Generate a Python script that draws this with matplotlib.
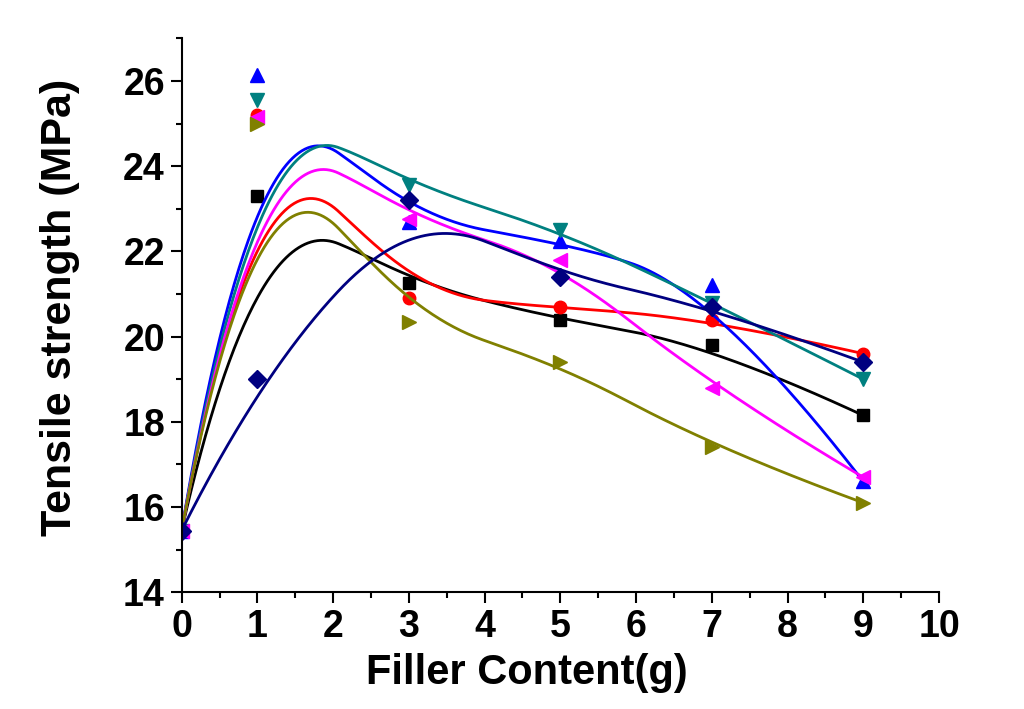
import numpy as np
import matplotlib
matplotlib.use('Agg')
import matplotlib.pyplot as plt
from matplotlib.ticker import MultipleLocator

plt.rcParams['font.family'] = ['Liberation Sans', 'DejaVu Sans']
plt.rcParams['font.weight'] = 'bold'

filler = [0, 1, 3, 5, 7, 9]

s_black = [15.45, 23.3, 21.25, 20.4, 19.8, 18.15]
s_red = [15.45, 25.2, 20.9, 20.7, 20.4, 19.6]
s_blue = [15.45, 26.15, 22.7, 22.25, 21.2, 16.6]
s_teal = [15.45, 25.55, 23.55, 22.5, 20.8, 19.0]
s_magenta = [15.45, 25.15, 22.75, 21.8, 18.8, 16.7]
s_olive = [15.45, 25.0, 20.35, 19.4, 17.4, 16.1]
s_navy = [15.45, 19.0, 23.2, 21.4, 20.7, 19.4]

series = [
    (s_black, 'black', 's', 8),
    (s_red, '#ff0000', 'o', 9),
    (s_blue, '#0000ff', '^', 9.5),
    (s_teal, '#008080', 'v', 9.5),
    (s_magenta, '#ff00ff', '<', 9.5),
    (s_olive, '#808000', '>', 9.5),
    (s_navy, '#000080', 'D', 9),
]


def basis(u, knots, k):
    N = np.zeros((len(u), len(knots) - 1))
    for i in range(len(knots) - 1):
        N[:, i] = (u >= knots[i]) & (u < knots[i + 1])
    for d in range(1, k + 1):
        Nn = np.zeros((len(u), len(knots) - 1 - d))
        for i in range(len(knots) - 1 - d):
            a = knots[i + d] - knots[i]
            b = knots[i + d + 1] - knots[i + 1]
            t1 = (u - knots[i]) / a * N[:, i] if a > 0 else 0
            t2 = (knots[i + d + 1] - u) / b * N[:, i + 1] if b > 0 else 0
            Nn[:, i] = t1 + t2
        N = Nn
    return N


def bspline(xs, ys, n=400):
    # smoothed curve: data points used as control points of clamped
    # quadratic and cubic B-splines, blended
    pts = np.column_stack([xs, ys]).astype(float)
    m = len(pts)
    u = np.linspace(0, 1, n)
    u[-1] = 1 - 1e-12
    out = np.zeros((n, 2))
    for k, w in ((2, 0.6), (3, 0.4)):
        knots = np.concatenate([[0] * k, np.linspace(0, 1, m - k + 1), [1] * k])
        out += w * (basis(u, knots, k) @ pts)
    return out[:, 0], out[:, 1]


fig = plt.figure(figsize=(10.24, 7.09), dpi=100)
ax = fig.add_axes([0.1774, 0.1646, 0.7396, 0.7814])

for ys, col, mk, ms in series:
    cx, cy = bspline(filler, ys)
    ax.plot(cx, cy, color=col, lw=2)
    ax.plot(filler, ys, linestyle='none', marker=mk, color=col, markersize=ms)

ax.set_xlim(0, 10)
ax.set_ylim(14, 27)
ax.xaxis.set_major_locator(MultipleLocator(1))
ax.xaxis.set_minor_locator(MultipleLocator(0.5))
ax.yaxis.set_major_locator(MultipleLocator(2))
ax.yaxis.set_minor_locator(MultipleLocator(1))
ax.spines['top'].set_visible(False)
ax.spines['right'].set_visible(False)
for sp in ('left', 'bottom'):
    ax.spines[sp].set_linewidth(1.5)
ax.tick_params(which='major', direction='out', length=8, width=1.5, labelsize=27, pad=4)
ax.tick_params(which='minor', direction='out', length=4, width=1.5)

ax.set_xlabel('Filler Content(g)', fontsize=30, fontweight='bold')
ax.set_ylabel('Tensile strength (MPa)', fontsize=31, fontweight='bold')
ax.xaxis.set_label_coords(0.456, -0.109)
ax.yaxis.set_label_coords(-0.134, 0.515)

fig.savefig('out.png', dpi=100)
